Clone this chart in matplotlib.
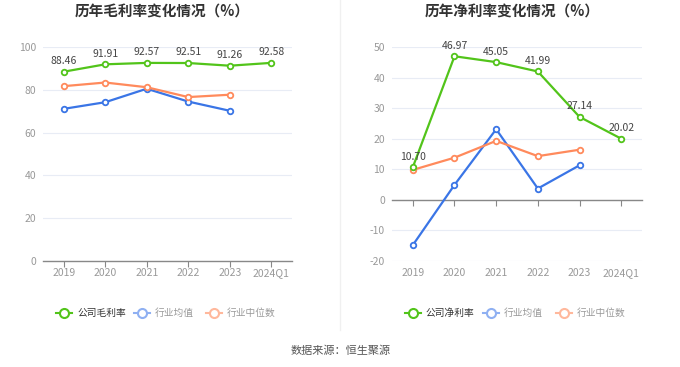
import matplotlib
matplotlib.use('Agg')
import matplotlib.pyplot as plt
import matplotlib.transforms as mtransforms
from matplotlib.lines import Line2D

plt.rcParams['font.family'] = ['Noto Sans CJK SC', 'DejaVu Sans']

# Data
years = ['2019', '2020', '2021', '2022', '2023', '2024Q1']
gross_company = [88.46, 91.91, 92.57, 92.51, 91.26, 92.58]
gross_ind_avg = [71.1, 74.2, 80.5, 74.5, 70.2]
gross_ind_med = [81.7, 83.4, 81.2, 76.6, 77.7]
net_company = [10.70, 46.97, 45.05, 41.99, 27.14, 20.02]
net_ind_avg = [-14.8, 4.9, 23.1, 3.7, 11.3]
net_ind_med = [9.8, 13.8, 19.3, 14.3, 16.4]

GREEN = '#52c41a'
BLUE = '#3a75e6'
ORANGE = '#ff8a5c'
GRID = '#e8ecf5'
TICK = '#999999'

W, H = 680, 367
fig = plt.figure(figsize=(W / 100, H / 100), dpi=100)


def px_axes(x0, x1, ytop, ybot):
    return fig.add_axes([x0 / W, (H - ybot) / H, (x1 - x0) / W, (ybot - ytop) / H])


def draw_panel(ax, title, company, ind_avg, ind_med, ylim, yticks, title_x):
    x = list(range(len(years)))
    ax.set_xlim(-0.5, len(years) - 0.5)
    ax.set_ylim(*ylim)
    ax.set_yticks(yticks)
    ax.set_yticklabels([str(t) for t in yticks], color=TICK, fontsize=7.5)
    ax.tick_params(axis='y', length=0, pad=5)
    for t in yticks:
        ax.axhline(t, color=GRID, lw=0.8, zorder=0)
    for s in ['top', 'right', 'left']:
        ax.spines[s].set_visible(False)
    ax.spines['bottom'].set_position(('data', 0))
    ax.spines['bottom'].set_color('#888888')
    ax.spines['bottom'].set_linewidth(1.0)
    ax.set_xticks(x)
    ax.tick_params(axis='x', length=4, color='#888888', labelbottom=False)
    trans = mtransforms.blended_transform_factory(ax.transData, ax.transAxes)
    for i, y in enumerate(years):
        ax.text(i, -0.035, y, transform=trans, ha='center', va='top', color=TICK, fontsize=7.5)

    mk = dict(marker='o', markersize=4, markerfacecolor='white', markeredgewidth=1.3, lw=1.6)
    ax.plot(x[:len(ind_avg)], ind_avg, color=BLUE, zorder=3, **mk)
    ax.plot(x[:len(ind_med)], ind_med, color=ORANGE, zorder=3, **mk)
    ax.plot(x, company, color=GREEN, zorder=4, **mk)
    for i, v in enumerate(company):
        ax.annotate(f'{v:.2f}', (i, v), xytext=(0, 4), textcoords='offset points',
                    ha='center', va='bottom', fontsize=7.5, color='#444444', zorder=5)

    fig.text(title_x / W, 1 - 12 / H, title, ha='center', va='center',
             fontsize=10.5, fontweight='bold', color='#333333')


ax1 = px_axes(43, 292, 47, 261)
draw_panel(ax1, '历年毛利率变化情况（%）', gross_company, gross_ind_avg, gross_ind_med,
           (0, 100), [0, 20, 40, 60, 80, 100], 162)

ax2 = px_axes(392, 642, 47, 261)
draw_panel(ax2, '历年净利率变化情况（%）', net_company, net_ind_avg, net_ind_med,
           (-20, 50), [-20, -10, 0, 10, 20, 30, 40, 50], 512)

# separator
fig.add_artist(Line2D([340 / W, 340 / W], [1 - 0 / H, 1 - 330 / H], color='#f0f0f0', lw=1))


def legend_row(icon_xs, name):
    y = 1 - 313 / H
    items = [(name, GREEN, '#333333'), ('行业均值', '#8fb0f2', '#999999'), ('行业中位数', '#ffb89c', '#999999')]
    for (label, c, tc), x in zip(items, icon_xs):
        fig.add_artist(Line2D([(x - 8) / W, (x + 8) / W], [y, y], color=c, lw=1.5))
        fig.add_artist(Line2D([x / W], [y], marker='o', markersize=6.5, color=c,
                              markerfacecolor='white', markeredgewidth=1.5))
        fig.text((x + 13) / W, y, label, ha='left', va='center', fontsize=7, color=tc)


legend_row([64, 142, 214], '公司毛利率')
legend_row([413, 491, 564], '公司净利率')

fig.text(341 / W, 1 - 351 / H, '数据来源：恒生聚源', ha='center', va='center', fontsize=8, color='#555555')

fig.savefig('out.png', dpi=100)
